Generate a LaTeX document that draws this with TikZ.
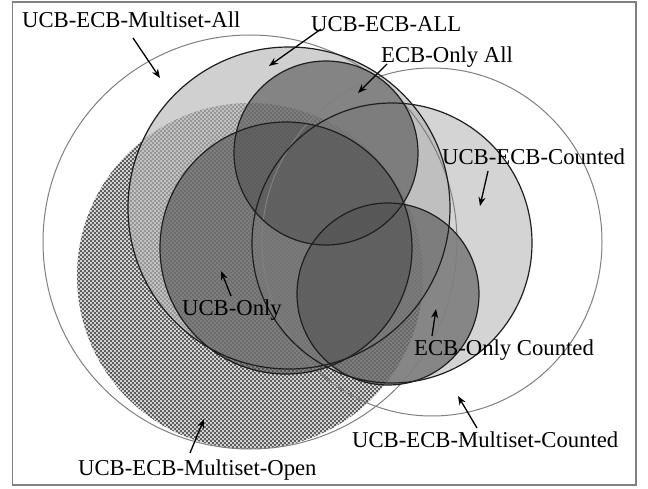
\documentclass[tikz,border=0pt]{standalone}
\usepackage{fontspec}
\setmainfont{Liberation Serif}
\usetikzlibrary{patterns,arrows.meta}
\pgfdeclarepatternformonly{checkerfine}{\pgfqpoint{0pt}{0pt}}{\pgfqpoint{4.4pt}{4.4pt}}{\pgfqpoint{4.4pt}{4.4pt}}{%
  \pgfpathrectangle{\pgfqpoint{0pt}{0pt}}{\pgfqpoint{2.2pt}{2.2pt}}%
  \pgfpathrectangle{\pgfqpoint{2.2pt}{2.2pt}}{\pgfqpoint{2.2pt}{2.2pt}}%
  \pgfusepath{fill}}
\definecolor{framegray}{gray}{0.5}
\definecolor{thingray}{gray}{0.5}
\definecolor{edgedark}{gray}{0.12}
\definecolor{allfill}{gray}{0.72}
\definecolor{cntfill}{gray}{0.70}
\definecolor{darkfill}{gray}{0.32}
\definecolor{hatchbase}{gray}{0.86}
\definecolor{hatchdot}{gray}{0.36}
\tikzset{
  x=1pt, y=-1pt,
  lbl/.style={anchor=base west, inner sep=0pt, font=\fontsize{22.7}{27}\selectfont},
  arr/.style={line width=1.3pt, -{Stealth[length=9pt,width=7pt]}},
  thinring/.style={draw=thingray, line width=1pt},
  darkring/.style={draw=edgedark, line width=1.2pt},
  darkset/.style={fill=darkfill, fill opacity=0.6},
}
\begin{document}
\begin{tikzpicture}
\useasboundingbox (0,0) rectangle (648,489);
\fill[white] (0,0) rectangle (648,489);
\draw[framegray, line width=1.4pt] (12.5,2) rectangle (636,485);
% white outer sets
\fill[white] (250,242) circle[radius=207];
\fill[white] (432,242) ellipse[x radius=170, y radius=174];
% hatched set
\fill[hatchbase] (250,276) circle[radius=173];
\fill[pattern=checkerfine, pattern color=hatchdot] (250,276) circle[radius=173];
% translucent sets
\fill[allfill, fill opacity=0.65] (289,208) circle[radius=161];
\fill[cntfill, fill opacity=0.55] (392,243) circle[radius=140];
\fill[darkset] (326,153) circle[radius=92];
\fill[darkset] (286,248) circle[radius=126];
\fill[darkset] (388,294) circle[radius=91];
% outlines
\draw[thinring] (250,242) circle[radius=207];
\draw[thinring] (432,242) ellipse[x radius=170, y radius=174];
\draw[darkring] (289,208) circle[radius=161];
\draw[darkring] (392,243) circle[radius=140];
\draw[darkring] (326,153) circle[radius=92];
\draw[darkring] (286,248) circle[radius=126];
\draw[darkring] (388,294) circle[radius=91];
% labels
\node[lbl] (tMAll) at (22,28) {UCB-ECB-Multiset-All};
\node[lbl] (tAll) at (311,32) {UCB-ECB-ALL};
\node[lbl] (tEOAll) at (381,63) {ECB-Only All};
\node[lbl] (tCnt) at (442,165) {UCB-ECB-Counted};
\node[lbl] (tEOCnt) at (414,355) {ECB-Only Counted};
\node[lbl] (tMCnt) at (352,447) {UCB-ECB-Multiset-Counted};
\node[lbl] (tOpen) at (78,475) {UCB-ECB-Multiset-Open};
\node[lbl] (tUCB) at (182,315) {UCB-Only};
% arrow ends
\coordinate (aMAll1) at (133,38);   \coordinate (aMAll2) at (160,78);
\coordinate (aAll1) at (321,29);    \coordinate (aAll2) at (269,66);
\coordinate (aEO1) at (387,64);     \coordinate (aEO2) at (358,93);
\coordinate (aCnt1) at (488,171);   \coordinate (aCnt2) at (480,206);
\coordinate (aEOC1) at (432,336);   \coordinate (aEOC2) at (436,309);
\coordinate (aMC1) at (477,428);    \coordinate (aMC2) at (458,396);
\coordinate (aOp1) at (190,453);    \coordinate (aOp2) at (204,419);
\coordinate (aU1) at (231,296);     \coordinate (aU2) at (221,271);
\draw[arr] (aMAll1) -- (aMAll2);
\draw[arr] (aAll1) -- (aAll2);
\draw[arr] (aEO1) -- (aEO2);
\draw[arr] (aCnt1) -- (aCnt2);
\draw[arr] (aEOC1) -- (aEOC2);
\draw[arr] (aMC1) -- (aMC2);
\draw[arr] (aOp1) -- (aOp2);
\draw[arr] (aU1) -- (aU2);
\end{tikzpicture}
\end{document}
